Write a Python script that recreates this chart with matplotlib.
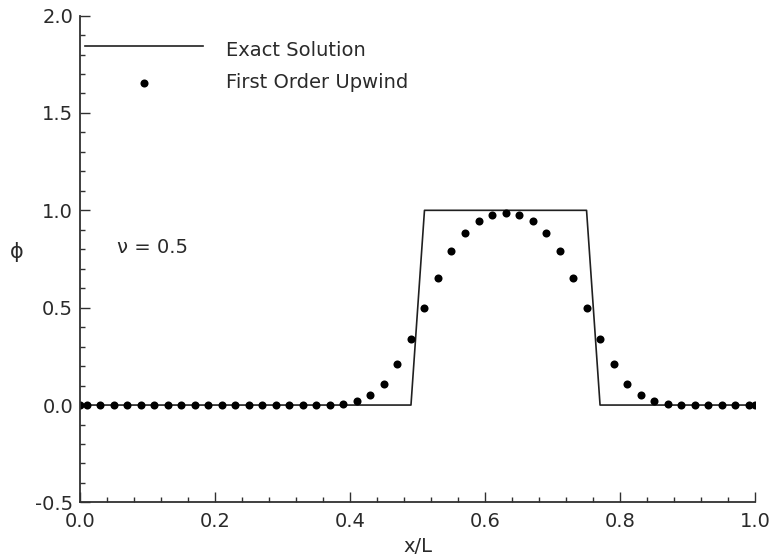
import matplotlib
matplotlib.use("Agg")
import matplotlib.pyplot as plt
from matplotlib.ticker import MultipleLocator, FormatStrFormatter
from matplotlib.lines import Line2D

plt.rcParams['font.family'] = ['DejaVu Sans']
plt.rcParams['axes.unicode_minus'] = False

# exact (square wave) solution
x_exact = [0.0, 0.49, 0.51, 0.75, 0.77, 1.0]
phi_exact = [0.0, 0.0, 1.0, 1.0, 0.0, 0.0]

# first order upwind result, cell centres plus boundaries
x_upwind = [0.0, 0.01, 0.03, 0.05, 0.07, 0.09, 0.11, 0.13, 0.15, 0.17,
            0.19, 0.21, 0.23, 0.25, 0.27, 0.29, 0.31, 0.33, 0.35, 0.37,
            0.39, 0.41, 0.43, 0.45, 0.47, 0.49, 0.51, 0.53, 0.55, 0.57,
            0.59, 0.61, 0.63, 0.65, 0.67, 0.69, 0.71, 0.73, 0.75, 0.77,
            0.79, 0.81, 0.83, 0.85, 0.87, 0.89, 0.91, 0.93, 0.95, 0.97,
            0.99, 1.0]
phi_upwind = [0.0, 0.0, 0.0, 0.0, 0.0, 0.0, 0.0, 0.0, 0.0, 0.0,
              0.0, 0.0, 0.0, 0.0, 0.0, 0.0, 0.0, 0.0, 0.001, 0.002,
              0.006, 0.02, 0.05, 0.11, 0.21, 0.34, 0.50, 0.655, 0.79, 0.885,
              0.945, 0.975, 0.985, 0.975, 0.945, 0.885, 0.79, 0.655, 0.50, 0.34,
              0.21, 0.11, 0.05, 0.02, 0.006, 0.002, 0.001, 0.0, 0.0, 0.0,
              0.0, 0.0]

TXT = '#2a2a2a'
fs = 14

fig = plt.figure(figsize=(7.7, 5.57), dpi=100)
ax = fig.add_axes([0.104, 0.098, 0.877, 0.874])

ax.plot(x_exact, phi_exact, color='#202020', lw=1.2)
ax.plot(x_upwind, phi_upwind, 'o', color='black', ms=5.8, mew=0)

ax.set_xlim(0.0, 1.0)
ax.set_ylim(-0.5, 2.0)
ax.xaxis.set_major_locator(MultipleLocator(0.2))
ax.xaxis.set_minor_locator(MultipleLocator(0.04))
ax.yaxis.set_major_locator(MultipleLocator(0.5))
ax.yaxis.set_minor_locator(MultipleLocator(0.1))
ax.xaxis.set_major_formatter(FormatStrFormatter('%.1f'))
ax.yaxis.set_major_formatter(FormatStrFormatter('%.1f'))

for s in ['top', 'right']:
    ax.spines[s].set_visible(False)
for s in ['left', 'bottom']:
    ax.spines[s].set_color('#303030')
    ax.spines[s].set_linewidth(1.3)

ax.tick_params(which='both', direction='in', colors='#303030', labelcolor=TXT,
               labelsize=fs, width=1.0)
ax.tick_params(which='major', length=7.5, pad=5)
ax.tick_params(which='minor', length=3.5)
ax.tick_params(axis='x', which='major', pad=7)

ax.set_xlabel('x/L', fontsize=fs, color=TXT, labelpad=4)
ax.set_ylabel('ϕ', fontsize=fs + 1, color=TXT, rotation=0, va='center',
              ha='center')
ax.yaxis.set_label_coords(-0.094, 0.514)

# hand drawn legend inside the axes
ax.add_line(Line2D([0.008, 0.182], [1.846, 1.846], color='#202020', lw=1.2))
ax.plot([0.095], [1.656], 'o', color='black', ms=5.8, mew=0)
ax.text(0.216, 1.823, 'Exact Solution', fontsize=fs, color=TXT, va='center')
ax.text(0.216, 1.656, 'First Order Upwind', fontsize=fs, color=TXT, va='center')

ax.text(0.055, 0.81, 'ν = 0.5', fontsize=fs, color=TXT, va='center')

fig.savefig('out.png', dpi=100)
